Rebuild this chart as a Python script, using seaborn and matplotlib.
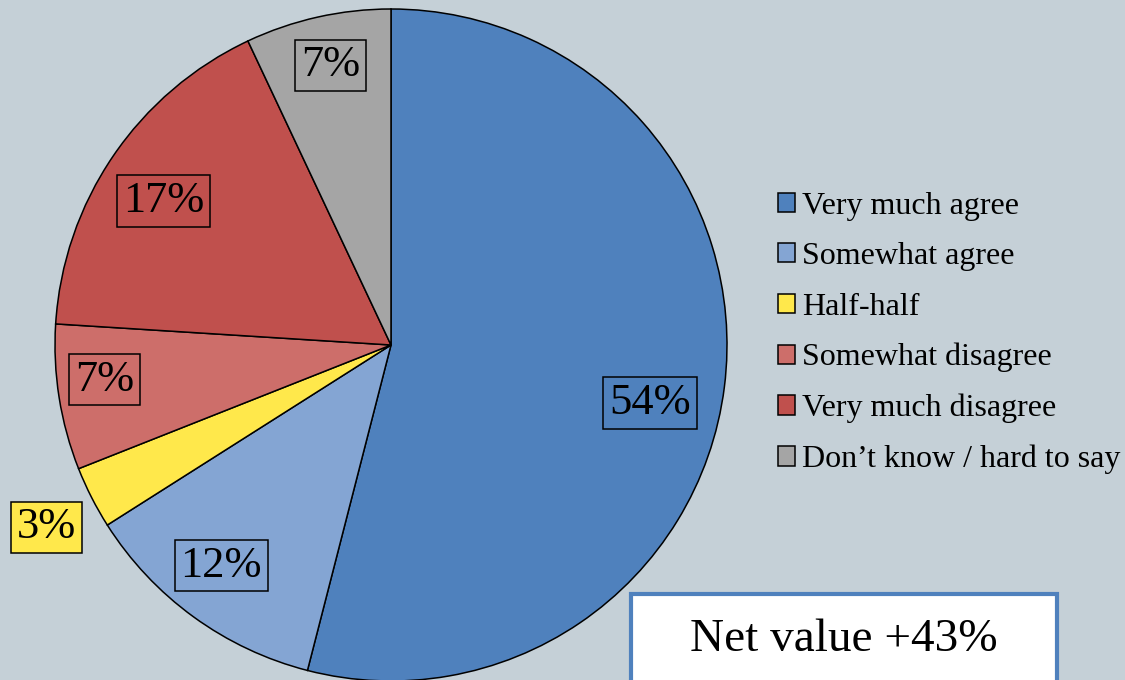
import numpy as np
import matplotlib
matplotlib.use("Agg")
import matplotlib.pyplot as plt
import seaborn as sns
from matplotlib.patches import Rectangle

# data
categories = ["Very much agree", "Somewhat agree", "Half-half",
              "Somewhat disagree", "Very much disagree", "Don\u2019t know / hard to say"]
shares = [54, 12, 3, 7, 17, 7]
net_value = 43

bg = "#C5D0D7"
palette = sns.color_palette(["#4F81BD", "#84A5D3", "#FFE84B",
                             "#CD6E6A", "#C0504D", "#A5A5A5"])

sns.set_style("white", rc={"figure.facecolor": bg, "axes.facecolor": bg,
                           "text.color": "black"})
plt.rcParams["font.family"] = ["Liberation Serif", "DejaVu Serif"]
plt.rcParams["text.color"] = "black"

fig = plt.figure(figsize=(11.25, 6.8), dpi=100)
W, H = 1125, 680

# pie axes: centre (391, 345), radius 336 px
cx, cy, r = 391, 345, 336
ax = fig.add_axes([(cx - r) / W, (H - cy - r) / H, 2 * r / W, 2 * r / H])
ax.set_facecolor("none")
wedges, _ = ax.pie(shares, colors=palette, startangle=90, counterclock=False,
                   radius=1.0, wedgeprops=dict(edgecolor="black", linewidth=1.1))
ax.set_xlim(-1, 1)
ax.set_ylim(-1, 1)
ax.set_aspect("equal")
ax.axis("off")

# label placement (distance from centre, angle tweak)
dist = [0.79, 0.83, 1.16, 0.86, 0.80, 0.85]
dang = [-5.5, -1.5, 1.0, -2.0, 2.0, -0.4]
for w, v, d, da in zip(wedges, shares, dist, dang):
    ang = np.deg2rad((w.theta1 + w.theta2) / 2 + da)
    ax.text(d * np.cos(ang), d * np.sin(ang) + 0.015, f"{v}%", ha="center",
            va="center_baseline", fontsize=32, clip_on=False, color="black",
            bbox=dict(boxstyle="square,pad=0.13", facecolor=w.get_facecolor(),
                      edgecolor="black", linewidth=1.1))

# legend
leg = fig.legend(wedges, categories, loc="upper left",
                 bbox_to_anchor=(749 / W, 1 - 163 / H), frameon=False,
                 fontsize=23, handlelength=0.55, handleheight=0.55,
                 handletextpad=0.2, labelspacing=0.67)
for t in leg.get_texts():
    t.set_color("black")

# net value box
fig.patches.append(Rectangle((631 / W, 0 - 10 / H), 426 / W, (H - 594 + 10) / H,
                             transform=fig.transFigure, facecolor="white",
                             edgecolor="#4F81BD", linewidth=3))
fig.text(844 / W, 1 - 640 / H, f"Net value +{net_value}%", ha="center",
         va="center", fontsize=34, color="black")

fig.savefig("out.png", dpi=100, facecolor=bg)
